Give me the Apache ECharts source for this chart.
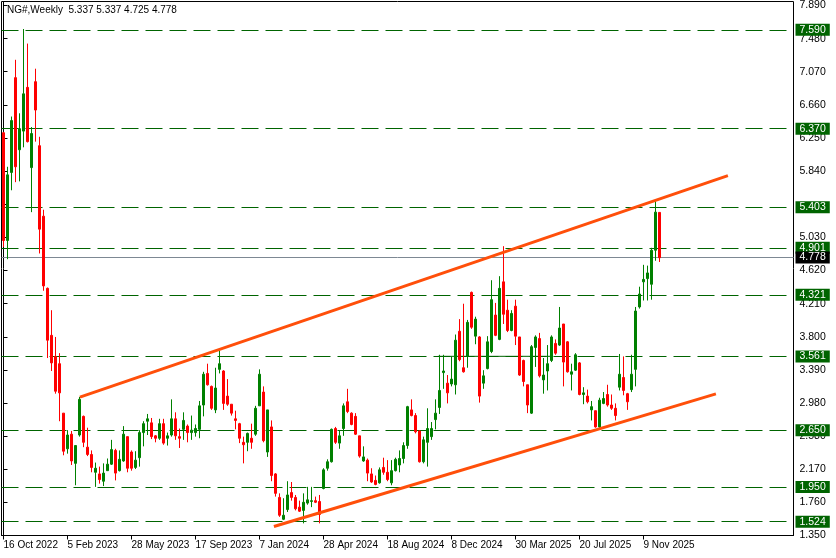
<!DOCTYPE html>
<html><head><meta charset="utf-8">
<script src="https://cdn.jsdelivr.net/npm/echarts@6/dist/echarts.min.js"></script>
<style>html,body{margin:0;padding:0;background:#fff;}#c{width:836px;height:558px;}</style>
</head><body><div id="c"></div>
<script>
// ---- data (weekly NG#, first bar = week of 16 Oct 2022) ----
const firstWeek = '2022-10-16';
const totalSlots = 198; // bars + empty space to the right
const xTickLabels = ['16 Oct 2022','5 Feb 2023','28 May 2023','17 Sep 2023','7 Jan 2024','28 Apr 2024','18 Aug 2024','8 Dec 2024','30 Mar 2025','20 Jul 2025','9 Nov 2025'];
const xTickEvery = 16;
const opens = [6.32,4.99,5.83,7.00,6.11,6.34,6.88,5.89,6.95,6.16,5.29,4.40,3.82,3.56,3.47,2.86,2.42,2.60,2.24,2.59,
2.82,2.44,2.35,2.13,2.11,2.02,2.15,2.23,2.40,2.15,2.27,2.57,2.38,2.19,2.31,2.62,2.76,2.74,2.58,2.55,
2.73,2.55,2.59,2.79,2.57,2.66,2.70,2.62,2.62,2.66,2.96,3.35,3.19,2.90,3.40,3.38,3.07,2.97,2.79,2.73,
2.50,2.50,2.55,2.60,2.95,3.12,2.38,2.69,2.11,1.82,1.55,1.67,1.88,1.82,1.70,1.66,1.75,1.77,1.78,1.77,
1.93,2.18,2.26,2.67,2.49,2.67,3.00,2.86,2.82,2.58,2.27,2.28,2.11,2.03,2.00,2.19,2.13,2.00,2.15,2.22,
2.30,2.46,2.90,2.83,2.64,2.26,2.50,2.57,2.78,2.93,3.36,3.23,3.22,3.21,3.87,3.42,3.56,4.35,3.81,3.80,
3.23,3.41,3.62,4.07,3.77,4.48,4.13,3.88,4.18,3.80,3.51,3.21,2.86,3.67,3.78,3.27,3.38,3.51,3.72,3.70,
3.96,3.74,3.34,3.39,3.48,3.09,3.07,2.90,2.89,2.69,2.98,3.09,2.96,2.92,3.18,3.30,3.10,3.15,3.40,4.17,
4.48,4.52,4.45,4.87,5.337];
const highs = [6.33,5.90,6.52,7.22,6.56,7.60,7.42,6.39,7.11,6.27,5.37,4.41,4.13,3.80,3.60,2.86,2.65,2.64,2.46,3.06,
2.83,2.68,2.40,2.25,2.20,2.24,2.30,2.53,2.42,2.40,2.70,2.57,2.40,2.39,2.65,2.76,2.85,2.80,2.59,2.79,
2.79,2.62,3.03,2.87,2.67,2.87,2.72,2.83,2.72,3.01,3.37,3.47,3.20,3.42,3.64,3.39,3.28,2.97,2.89,2.74,
2.57,2.62,2.73,2.95,3.40,3.19,2.90,2.77,2.12,1.87,1.81,2.02,2.01,1.85,1.78,1.87,1.95,1.95,1.83,1.85,
2.18,2.29,2.67,2.69,2.65,2.98,3.16,2.87,2.86,2.58,2.45,2.30,2.18,2.09,2.19,2.31,2.28,2.28,2.31,2.40,
2.50,2.95,3.03,2.86,2.65,2.57,2.92,2.75,3.03,3.58,3.58,3.33,3.56,3.83,4.02,4.21,4.01,4.36,4.05,3.81,
3.39,3.81,4.50,4.22,4.55,4.92,4.26,4.13,4.26,3.80,3.52,3.21,3.70,3.82,3.85,3.54,3.70,3.82,3.77,4.17,
3.96,3.75,3.47,3.60,3.49,3.18,3.15,3.01,2.89,3.05,3.12,3.21,3.09,2.98,3.59,3.56,3.11,3.58,4.17,4.42,
4.69,4.68,4.90,5.49,5.337];
const lows = [4.91,4.76,5.61,5.71,5.72,6.14,6.20,5.34,6.21,4.83,4.37,3.54,3.38,3.10,2.76,2.34,2.36,2.22,1.97,2.57,
2.44,2.33,2.13,1.95,1.99,1.96,2.15,2.22,2.03,2.14,2.26,2.13,2.15,2.17,2.20,2.45,2.59,2.54,2.50,2.53,
2.47,2.46,2.57,2.53,2.43,2.53,2.50,2.53,2.57,2.55,2.82,3.20,2.90,2.86,3.35,2.90,2.95,2.83,2.66,2.49,
2.24,2.39,2.42,2.58,2.95,2.50,2.32,2.02,1.83,1.58,1.54,1.64,1.78,1.66,1.64,1.50,1.73,1.70,1.75,1.50,
1.92,2.15,2.25,2.48,2.42,2.58,2.86,2.71,2.59,2.31,2.26,2.02,2.00,1.97,1.99,2.10,2.02,1.97,2.14,2.13,
2.24,2.42,2.82,2.61,2.25,2.24,2.20,2.53,2.66,2.85,3.16,2.98,3.19,3.09,3.50,3.36,3.42,3.90,3.71,2.99,
3.16,3.40,3.60,3.81,3.76,3.96,3.86,3.87,3.70,3.32,3.19,2.86,2.85,3.43,3.30,3.10,3.14,3.49,3.58,3.69,
3.19,3.36,3.14,3.38,3.08,2.97,2.98,2.77,2.68,2.68,2.97,2.94,2.90,2.77,3.14,3.08,2.90,3.12,3.19,4.15,
4.25,4.25,4.26,4.74,4.725];
const closes = [4.99,5.80,6.47,5.90,6.37,6.80,6.21,6.31,6.60,5.13,4.43,3.76,3.48,3.13,3.11,2.39,2.59,2.27,2.46,3.03,
2.50,2.35,2.19,2.18,2.04,2.12,2.23,2.41,2.12,2.29,2.60,2.18,2.18,2.28,2.62,2.73,2.79,2.57,2.55,2.73,
2.49,2.58,2.79,2.58,2.55,2.77,2.62,2.65,2.67,2.95,3.34,3.21,2.92,3.17,3.47,2.98,2.97,2.86,2.77,2.55,
2.47,2.61,2.50,2.92,3.34,2.52,2.90,2.09,1.87,1.60,1.60,1.85,1.82,1.68,1.65,1.76,1.79,1.78,1.76,1.61,
2.16,2.26,2.66,2.50,2.58,2.95,2.88,2.72,2.60,2.33,2.32,2.12,2.01,1.98,2.16,2.13,2.04,2.15,2.29,2.30,
2.46,2.94,2.83,2.63,2.26,2.53,2.67,2.67,2.86,3.14,3.38,3.11,3.28,3.76,3.52,3.37,3.98,3.92,4.02,3.07,
3.32,3.74,4.26,3.82,4.40,4.08,3.88,4.09,3.81,3.33,3.25,2.96,3.68,3.80,3.32,3.33,3.47,3.80,3.60,3.91,
3.49,3.37,3.37,3.58,3.09,3.11,3.00,2.94,2.69,3.02,3.04,2.96,2.92,2.83,3.34,3.14,3.00,3.34,4.12,4.33,
4.51,4.59,4.87,5.34,4.778];
const levels = [7.590, 6.370, 5.403, 4.901, 4.321, 3.561, 2.650, 1.950, 1.524];
const currentPrice = 4.778;
const titleText = 'NG#,Weekly  5.337 5.337 4.725 4.778';
const yMin = 1.350, yMax = 7.939, yStep = 0.40875;
const yTickLabels = ['1.350','1.760','2.170','2.580','2.980','3.390','3.800','4.210','4.620','5.030','','5.840','6.250','6.660','7.070','7.480','7.890'];
// trend lines: [bar index, price]
const upperTrend = [[19.1, 3.057], [181.1, 5.791]];
const lowerTrend = [[67.6, 1.461], [178.1, 3.097]];
const levelSegment = [[108.6, 3.561], [137.4, 3.561]];

// ---- build ----
const cats = [];
{ const d0 = new Date(firstWeek + 'T00:00:00Z');
  for (let i = 0; i < totalSlots; i++) { const d = new Date(d0.getTime() + i * 7 * 86400000); cats.push(d.toISOString().slice(0,10)); } }
const candles = opens.map((o, i) => [o, closes[i], lows[i], highs[i]]);
const FONT = "'Liberation Sans',Arial,sans-serif";
const GREEN = '#006400';
const showTick = (idx) => idx % xTickEvery === 0 && idx / xTickEvery < xTickLabels.length;

const levelLabel = (txt, bg) => ({ show: true, position: 'end', formatter: txt, color: '#fff', backgroundColor: bg,
  padding: [1, 4, 0, 4], lineHeight: 11, fontSize: 10.5, fontFamily: FONT, distance: 2 });
const levelLines = levels.map(v => ({
  yAxis: v,
  lineStyle: { color: GREEN, type: [17, 7], width: 1 },
  label: levelLabel(v.toFixed(3), GREEN)
}));
levelLines.push({
  yAxis: currentPrice,
  lineStyle: { color: '#7d8893', type: 'solid', width: 1 },
  label: levelLabel(currentPrice.toFixed(3), '#000')
});

const chart = echarts.init(document.getElementById('c'), null, { renderer: 'canvas' });
chart.setOption({
  animation: false,
  backgroundColor: '#fff',
  grid: { left: 1.5, top: 1.5, width: 792, height: 534, show: true, borderColor: '#000', borderWidth: 1, containLabel: false },
  graphic: [{ type: 'text', left: 7, top: 5, style: { text: titleText, fill: '#000', font: '10px ' + FONT } }],
  xAxis: [{
    type: 'category', data: cats, boundaryGap: true, position: 'bottom',
    axisLine: { show: true, lineStyle: { color: '#000' } },
    axisTick: { show: true, interval: (idx) => showTick(idx), alignWithLabel: true, length: 4, lineStyle: { color: '#000' } },
    axisLabel: { interval: (idx) => showTick(idx), formatter: (v, idx) => showTick(idx) ? xTickLabels[idx / xTickEvery] : '',
                 align: 'left', margin: 5, color: '#000', fontSize: 10, fontFamily: FONT, hideOverlap: false },
    splitLine: { show: false }
  }, {
    type: 'value', min: -0.5, max: totalSlots - 0.5, show: false, gridIndex: 0
  }],
  yAxis: [{
    type: 'value', position: 'right', min: yMin, max: yMax, interval: yStep, scale: true,
    axisLine: { show: true, lineStyle: { color: '#000' } },
    axisTick: { show: true, length: 4, lineStyle: { color: '#000' } },
    axisLabel: { margin: 6, color: '#000', fontSize: 10.5, fontFamily: FONT, showMaxLabel: true, showMinLabel: true,
      formatter: (v) => { const k = Math.round((v - yMin) / yStep); return Math.abs(v - (yMin + k * yStep)) < 1e-6 && yTickLabels[k] ? yTickLabels[k] : ''; } },
    splitLine: { show: false }
  }],
  series: [{
    type: 'candlestick', xAxisIndex: 0, yAxisIndex: 0, data: candles, barWidth: 2,
    itemStyle: { color: '#008000', borderColor: '#008000', color0: '#ff0000', borderColor0: '#ff0000', borderWidth: 1 },
    z: 3,
    markLine: { silent: true, symbol: 'none', animation: false, z: 1, data: levelLines }
  }, {
    type: 'line', xAxisIndex: 1, yAxisIndex: 0, data: levelSegment, symbol: 'none', silent: true, z: 2,
    lineStyle: { color: GREEN, width: 1 }
  }, {
    type: 'line', xAxisIndex: 1, yAxisIndex: 0, data: upperTrend, symbol: 'none', silent: true, z: 4,
    lineStyle: { color: '#ff4f0a', width: 3 }
  }, {
    type: 'line', xAxisIndex: 1, yAxisIndex: 0, data: lowerTrend, symbol: 'none', silent: true, z: 4,
    lineStyle: { color: '#ff4f0a', width: 3 }
  }]
});
</script></body></html>
